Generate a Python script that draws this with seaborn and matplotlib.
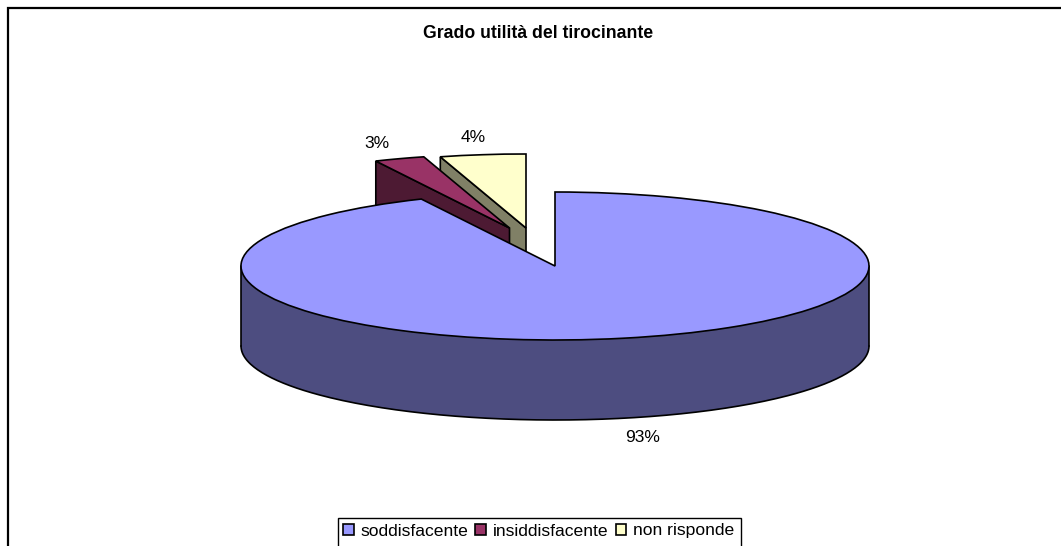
import numpy as np
import matplotlib
matplotlib.use("Agg")
import matplotlib.pyplot as plt
import seaborn as sns
from matplotlib.patches import Rectangle, Patch

categories = ["soddisfacente", "insiddisfacente", "non risponde"]
values = [93.0, 2.6, 4.4]
top_colors = ["#9999FF", "#993366", "#FFFFCC"]
side_colors = ["#4D4D80", "#4D1A33", "#808066"]
title = "Grado utilità del tirocinante"

sns.set_theme(style="white")
plt.rcParams["font.family"] = ["Liberation Sans", "DejaVu Sans"]

W, H = 1061, 546
CX, CY, RX, RY, DEPTH = 555, 266, 314, 74, 80
# pixel offsets of the pulled-out slices
OFFSETS = [(0, 0), (-45.5, -38), (-29, -38)]

fig = plt.figure(figsize=(W / 100, H / 100), dpi=100, facecolor="white")
ax = fig.add_axes([0, 0, 1, 1])
wedges, _ = ax.pie(values, colors=top_colors, startangle=90, counterclock=False,
                   wedgeprops=dict(edgecolor="black", linewidth=1.2))
ax.set_aspect("auto")
ax.set_xlim(-CX / RX, (W - CX) / RX)
ax.set_ylim((CY - H) / RY, CY / RY)
ax.axis("off")
d = DEPTH / RY

# slice geometry from the values
fr = np.cumsum([0] + values) / sum(values)
edge_ang = 2 * np.pi * fr
for i, w in enumerate(wedges):
    dx, dy = OFFSETS[i][0] / RX, -OFFSETS[i][1] / RY
    w.set_center((dx, dy))
    if i == 0:
        continue
    t = edge_ang[i]
    ex, ey = np.sin(t), np.cos(t)
    wall_x = [dx, dx + ex, dx + ex, dx]
    wall_y = [dy, dy + ey, dy + ey - d, dy - d]
    ax.fill(wall_x, wall_y, facecolor=side_colors[i], edgecolor="black", linewidth=1.2,
            zorder=1 + (3 - i))

wedges[2].set_zorder(3)
wedges[1].set_zorder(5)
# main slice above pulled-out slices, with its rim
t = np.linspace(np.pi / 2, 3 * np.pi / 2, 240)
ax.fill_between(np.sin(t), np.cos(t), np.cos(t) - d, facecolor=side_colors[0],
                edgecolor="none", zorder=6)
ax.plot(np.sin(t), np.cos(t) - d, color="black", lw=1.2, zorder=7)
ax.plot([1, 1], [0, -d], color="black", lw=1.2, zorder=7)
ax.plot([-1, -1], [0, -d], color="black", lw=1.2, zorder=7)
wedges[0].set_zorder(8)

pct = [f"{v / sum(values):.0%}" for v in values]
label_px = [(643, 437), (377, 144), (473, 137)]
for s, (px, py) in zip(pct, label_px):
    ax.text((px - CX) / RX, (CY - py) / RY, s, ha="center", va="center",
            fontsize=12.5, color="black", zorder=10)

fig.text(538 / W, 1 - 33 / H, title, ha="center", va="center", fontsize=12.7,
         fontweight="bold", color="black")

# chart frame, cut by the right and bottom image edges
fig.add_artist(Rectangle((7.5 / W, -0.1), 1.2, 1.1 - 7.5 / H, transform=fig.transFigure,
                         fill=False, edgecolor="black", linewidth=1.6))
# legend box, also cut by the image bottom
fig.add_artist(Rectangle((337.5 / W, -0.1), (741 - 337.5) / W, 0.1 + 1 - 517.5 / H,
                         transform=fig.transFigure, facecolor="white",
                         edgecolor="black", linewidth=1.0))

handles = [Patch(facecolor=c, edgecolor="black", linewidth=1.2) for c in top_colors]
leg = fig.legend(handles, categories, loc="center left", ncol=3,
                 bbox_to_anchor=(343 / W, 1 - 531 / H), borderaxespad=0, frameon=False,
                 borderpad=0, fontsize=12.6, handlelength=0.6, handleheight=0.6,
                 handletextpad=0.4, columnspacing=0.4, labelcolor="black")
leg.set_zorder(20)

fig.savefig("out.png", dpi=100)
